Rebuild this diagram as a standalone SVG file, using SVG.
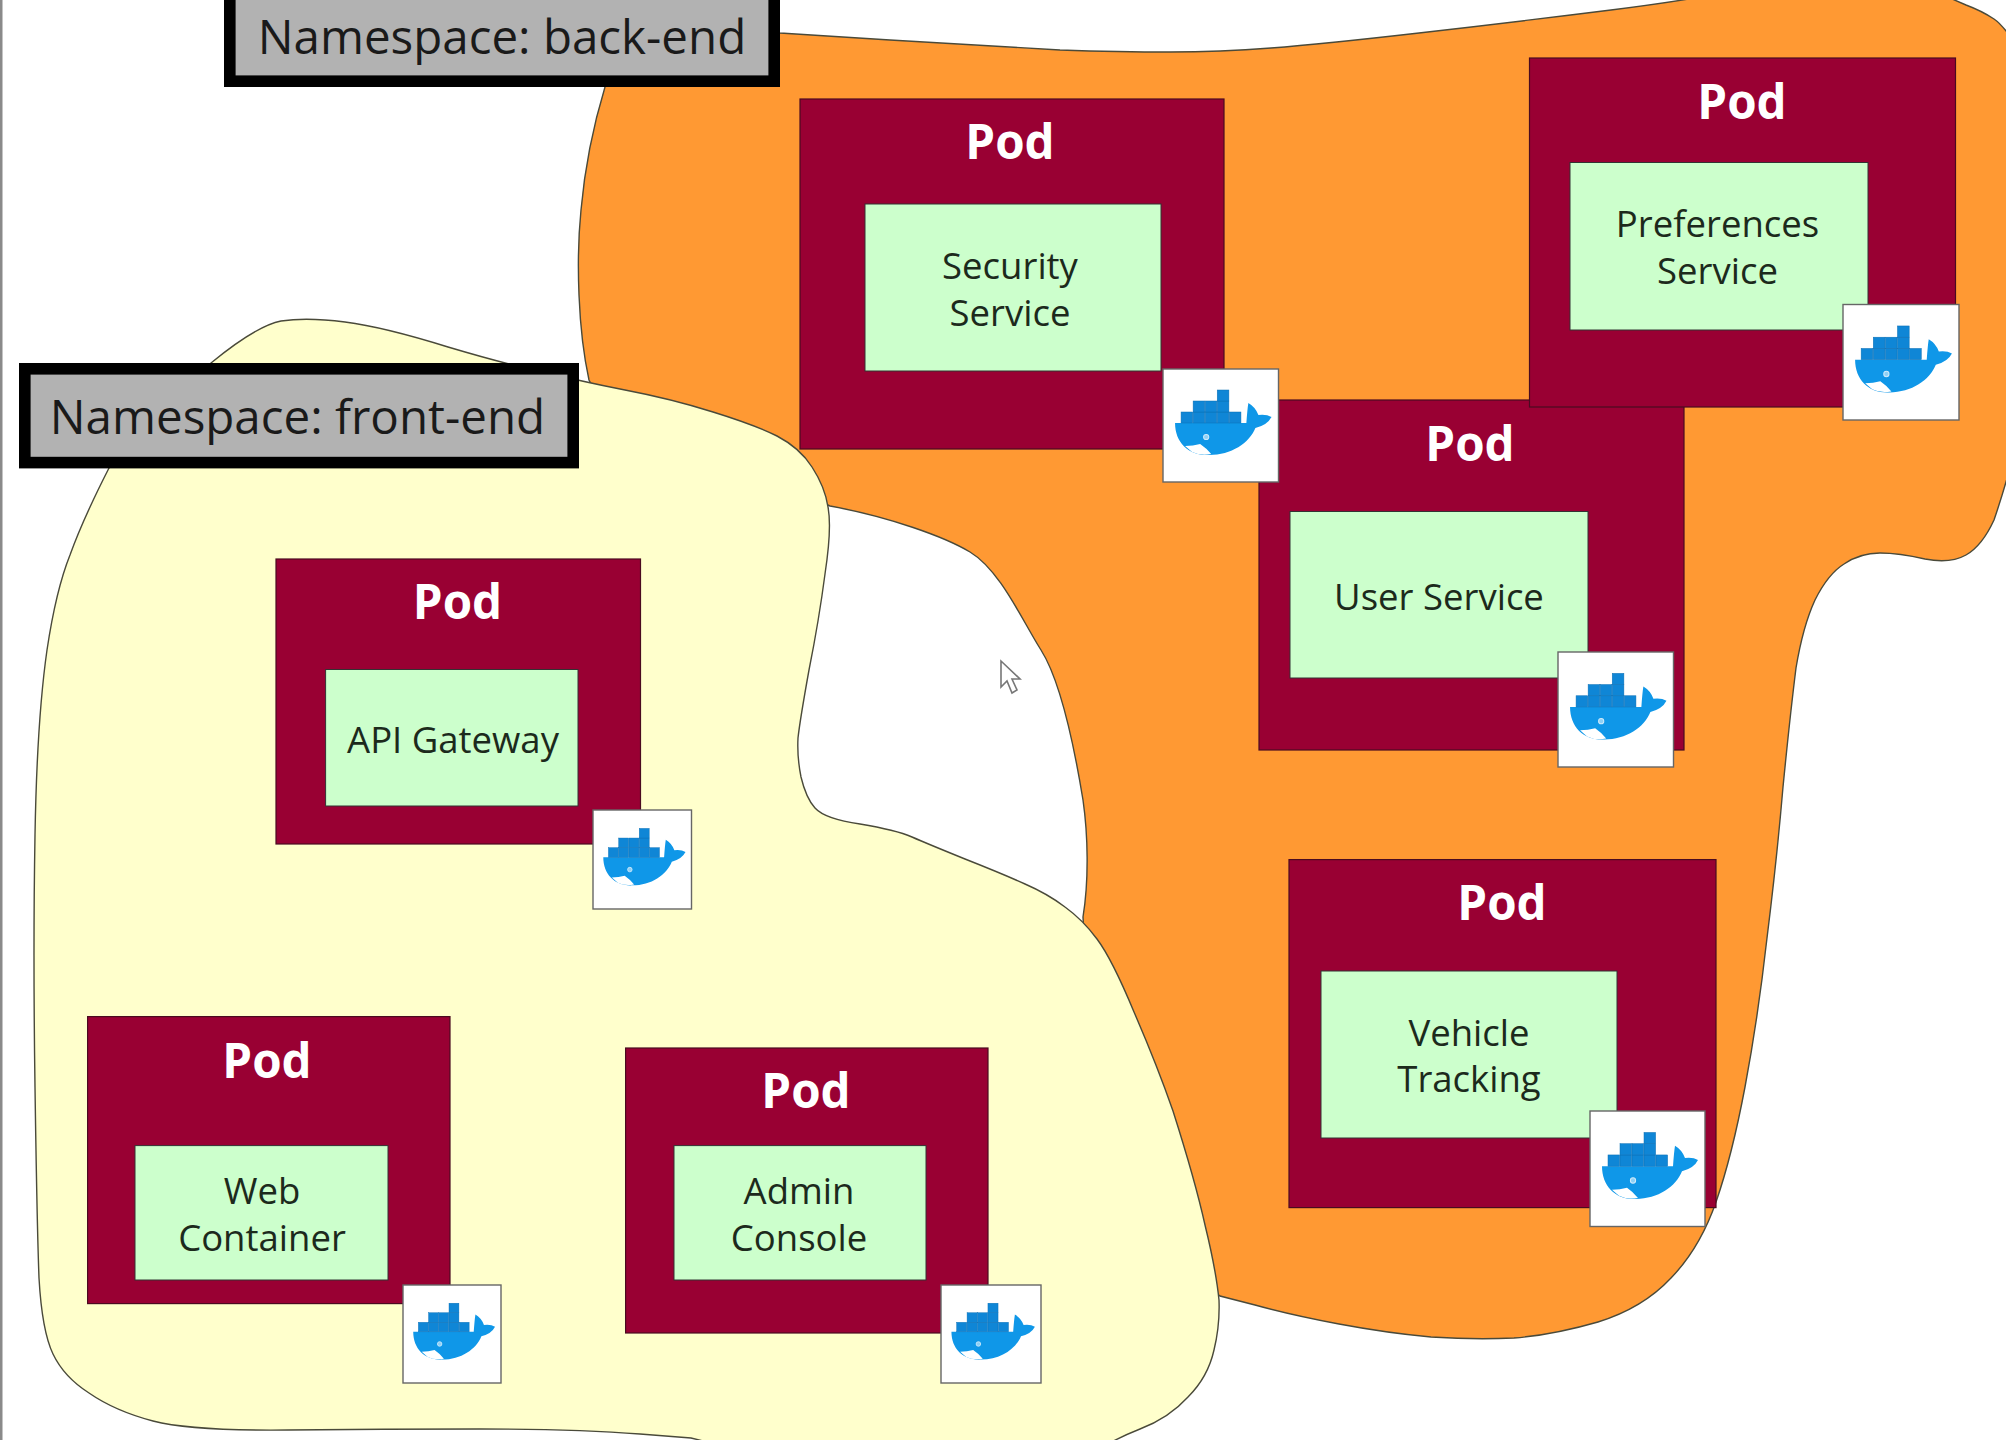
<svg xmlns="http://www.w3.org/2000/svg" width="2006" height="1440" viewBox="0 0 2006 1440">
<style>
.blob{stroke:#4a4a3a;stroke-width:1.4}
.pod{fill:#990033;stroke:#4a0a20;stroke-width:1.2}
.svc{fill:#ccffcc;stroke:#333;stroke-width:1}
.ns{fill:#b2b2b2;stroke:#000;stroke-width:11.6}
.dk{fill:#fff;stroke:#666;stroke-width:1.4}
text{font-family:"Open Sans","Noto Sans","Liberation Sans",sans-serif;text-anchor:middle}
.pt{font-size:47.500px;font-weight:700;fill:#fff}
.st{font-size:36.500px;fill:#1c2a1c}
.nt{font-size:47.500px;fill:#1a1a1a}
</style>
<defs>
<symbol id="whale" viewBox="0 0 115 113" preserveAspectRatio="none">
<path fill="#0f97e8" d="M12 54 L83 54 Q84 40 85 34 Q92 38 95 46 Q103 45 108 48 Q104 56 92 59 C86 74 68 86 46 86 C26 87 12 74 12 54Z"/>
<g fill="#0f86d6" stroke="#0b6fb5" stroke-width=".5">
<rect x="18" y="43" width="11.6" height="11"/><rect x="30" y="43" width="11.6" height="11"/><rect x="42" y="43" width="11.6" height="11"/><rect x="54" y="43" width="11.6" height="11"/><rect x="66" y="43" width="11.6" height="11"/>
<rect x="30" y="32" width="11.6" height="11"/><rect x="42" y="32" width="11.6" height="11"/><rect x="54" y="32" width="11.6" height="11"/>
<rect x="54" y="21" width="11.6" height="11"/>
</g>
<path fill="#fff" d="M22 77 Q30 77 37 75 Q43 79 48 85 Q37 87 29 83Z"/>
<circle cx="43" cy="68" r="2.6" fill="#8fd0f5" stroke="#cfeafb" stroke-width="1"/>
</symbol>
</defs>
<rect width="2006" height="1440" fill="#fff"/>
<rect width="2.500" height="1440" fill="#8a8a8a"/>

<g id="namespace-back-end">
<path id="blob-back-end" class="blob" fill="#ff9933" d="M605 87 L640 20 L780 33 L890 40 Q1003 47 1060 50 Q1120 52 1170 52 Q1220 52 1271 48 Q1323 44 1419 33 Q1515 22 1611 10 Q1707 -2 1760 -15 Q1850 -35 1920 -15 Q1950 -2 1966 5 Q1982 11 1994 19 Q2006 27 2025 60 Q2045 100 2040 250 Q2030 400 2016 445 Q2006 485 1994 520 Q1982 546 1966 555 Q1950 564 1925 559 Q1899 553 1880 553 Q1860 553 1844 564 Q1828 574 1815 600 Q1803 626 1796 668 Q1790 716 1783 787 Q1777 858 1767 938 Q1758 1018 1745 1087 Q1732 1156 1716 1202 Q1700 1248 1671 1278 Q1643 1308 1598 1322 Q1553 1335 1514 1338 Q1476 1340 1431 1337 Q1387 1333 1339 1324 Q1291 1315 1255 1305 L1220 1296 L1100 1200 L1083 917 C1089 880 1088 835 1083 800 C1074 745 1060 680 1041 650 C1022 620 1000 570 970 552 C945 537 890 517 830 506 L600 400 L589 380 C578 330 576 260 581 210 C585 165 595 120 605 87Z"/>
</g>

<g id="pod-user">
<rect class="pod" x="1259" y="400" width="425" height="350"/>
<text class="pt" x="1470" y="461">Pod</text>
<rect class="svc" x="1290" y="511.500" width="298" height="166.500"/>
<text class="st" x="1439" y="610">User Service</text>
<rect class="dk" x="1558" y="652" width="115.500" height="115"/>
<use href="#whale" x="1558" y="652" width="115.500" height="115"/>
</g>

<g id="pod-security">
<rect class="pod" x="800" y="99" width="424" height="350"/>
<text class="pt" x="1010" y="159">Pod</text>
<rect class="svc" x="865" y="204" width="296" height="167"/>
<text class="st" x="1010" y="279">Security</text>
<text class="st" x="1010" y="326">Service</text>
<rect class="dk" x="1163" y="369" width="115.500" height="113"/>
<use href="#whale" x="1163" y="369" width="115.500" height="113"/>
</g>

<g id="pod-preferences">
<rect class="pod" x="1529.500" y="58" width="426" height="349"/>
<text class="pt" x="1742" y="119">Pod</text>
<rect class="svc" x="1570" y="162.500" width="298" height="167.500"/>
<text class="st" x="1717.500" y="237">Preferences</text>
<text class="st" x="1717.500" y="284">Service</text>
<rect class="dk" x="1843" y="304.500" width="116" height="115.500"/>
<use href="#whale" x="1843" y="304.500" width="116" height="115.500"/>
</g>

<g id="pod-vehicle">
<rect class="pod" x="1289" y="859.600" width="427" height="348"/>
<text class="pt" x="1502" y="920">Pod</text>
<rect class="svc" x="1321" y="971" width="296" height="167"/>
<text class="st" x="1469" y="1046">Vehicle</text>
<text class="st" x="1469" y="1092">Tracking</text>
<rect class="dk" x="1590" y="1111" width="115" height="115.500"/>
<use href="#whale" x="1590" y="1111" width="115" height="115.500"/>
</g>

<g id="namespace-front-end">
<path id="blob-front-end" class="blob" fill="#ffffcc" d="M211 363 Q256 326 281 321 Q307 317 345 322 Q384 327 448 347 Q512 366 545 372 Q579 381 625 390 Q672 399 713 412 Q755 425 777 436 Q800 448 812 467 Q825 487 828 507 Q832 528 825 574 Q819 620 809 670 Q800 720 798 738 Q797 757 801 777 Q806 798 815 808 Q825 819 860 824 Q896 830 912 837 Q928 844 965 859 Q1003 874 1025 884 Q1048 894 1065 907 Q1083 920 1097 939 Q1112 959 1134 1012 Q1157 1065 1173 1111 Q1195 1180 1205 1225 Q1216 1270 1219 1300 Q1220 1325 1214 1350 Q1208 1377 1188 1397 Q1169 1418 1140 1429 Q1112 1440 1080 1460 L780 1460 L691 1438 L640 1434 Q576 1429 480 1429 Q384 1429 288 1430 Q192 1431 153 1421 Q115 1411 89 1393 Q64 1377 53 1354 Q42 1331 39 1278 Q37 1225 35 1087 Q33 950 35 835 Q37 720 47 650 Q56 590 70 555 Q83 519 109 468Z"/>
</g>

<g id="label-back-end">
<rect class="ns" x="229.800" y="-30" width="544.400" height="111.200"/>
<text class="nt" x="502" y="54">Namespace: back-end</text>
</g>
<g id="label-front-end">
<rect class="ns" x="24.800" y="368.800" width="548.400" height="93.800"/>
<text class="nt" x="297.500" y="434">Namespace: front-end</text>
</g>

<g id="pod-api">
<rect class="pod" x="276" y="559" width="364.500" height="285"/>
<text class="pt" x="457.500" y="619">Pod</text>
<rect class="svc" x="325.600" y="669.500" width="252.400" height="136.500"/>
<text class="st" x="453" y="753">API Gateway</text>
<rect class="dk" x="593" y="810" width="98.500" height="99"/>
<use href="#whale" x="593" y="810" width="98.500" height="99"/>
</g>

<g id="pod-web">
<rect class="pod" x="87.600" y="1016.600" width="362.400" height="287"/>
<text class="pt" x="267" y="1078">Pod</text>
<rect class="svc" x="135" y="1145.600" width="253" height="134.400"/>
<text class="st" x="262" y="1204">Web</text>
<text class="st" x="262" y="1251">Container</text>
<rect class="dk" x="403" y="1285" width="98" height="98"/>
<use href="#whale" x="403" y="1285" width="98" height="98"/>
</g>

<g id="pod-admin">
<rect class="pod" x="625.600" y="1048" width="362.400" height="285"/>
<text class="pt" x="806" y="1108">Pod</text>
<rect class="svc" x="674" y="1145.600" width="252" height="134.400"/>
<text class="st" x="799" y="1204">Admin</text>
<text class="st" x="799" y="1251">Console</text>
<rect class="dk" x="941" y="1285" width="100" height="98"/>
<use href="#whale" x="941" y="1285" width="100" height="98"/>
</g>

<g id="connectors"></g>
<path id="cursor" fill="#fff" stroke="#777" stroke-width="1.600" d="M1001 661 L1001 687 L1007 681 L1012 693 L1017 690 L1012 679 L1020 679Z"/>
</svg>
